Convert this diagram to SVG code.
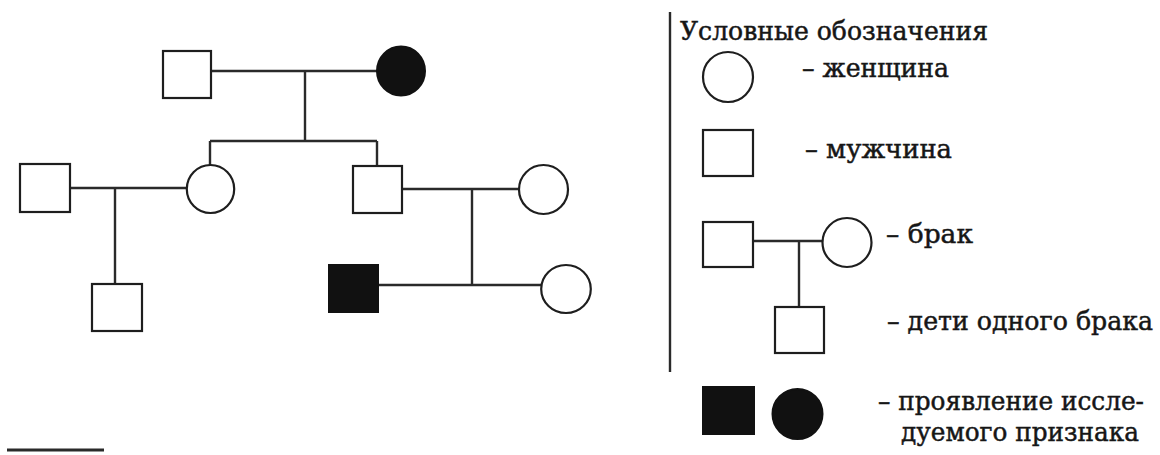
<svg xmlns="http://www.w3.org/2000/svg" width="1160" height="455" viewBox="0 0 1160 455">
<style>
.n{fill:#fff;stroke:#1e1e1e;stroke-width:2.2}
.f{fill:#111;stroke:#111;stroke-width:2}
.c{fill:none;stroke:#2a2a2a;stroke-width:2.4}
text{font-family:'DejaVu Serif','Liberation Serif','Noto Serif','Times New Roman',Times,serif;font-size:26px;fill:#161616;stroke:#161616;stroke-width:0.5}
</style>
<rect width="1160" height="455" fill="#fff"/>
<g id="connectors" class="c">
<path d="M211 71H377M305 71V141M210 141H377M210 141V165M377 141V166"/>
<path d="M70 188H187M115 188V284"/>
<path d="M402 189H519M472 189V285M378 285H542"/>
<path d="M753 241H823M799 241V307"/>
<path d="M670 12V372"/>
<path d="M7 450H104" stroke-width="3"/>
</g>
<g id="gp-father"><rect class="n" x="163" y="51" width="48" height="47"/></g>
<g id="gp-mother"><ellipse class="f" cx="401" cy="71" rx="24" ry="24.5"/></g>
<g id="daughter"><ellipse class="n" cx="210.5" cy="189" rx="23.7" ry="24"/></g>
<g id="son"><rect class="n" x="353" y="166" width="49" height="47"/></g>
<g id="son-in-law"><rect class="n" x="20" y="164" width="50" height="48"/></g>
<g id="grandson-left"><rect class="n" x="92" y="284" width="50" height="47"/></g>
<g id="daughter-in-law"><ellipse class="n" cx="543.5" cy="189.5" rx="24.5" ry="24.5"/></g>
<g id="grandson-affected"><rect class="f" x="329" y="265" width="49" height="47"/></g>
<g id="granddaughter"><ellipse class="n" cx="566" cy="289" rx="24.8" ry="24"/></g>
<g id="legend">
<text x="680" y="40" textLength="308" lengthAdjust="spacingAndGlyphs">Условные обозначения</text>
<circle class="n" cx="728" cy="77" r="25"/>
<text x="802" y="77" textLength="147" lengthAdjust="spacingAndGlyphs">– женщина</text>
<rect class="n" x="703" y="130" width="50" height="46"/>
<text x="805" y="158" textLength="147" lengthAdjust="spacingAndGlyphs">– мужчина</text>
<rect class="n" x="703" y="222" width="50" height="45"/>
<circle class="n" cx="847" cy="242.5" r="24.5"/>
<text x="886" y="243" textLength="87" lengthAdjust="spacingAndGlyphs">– брак</text>
<rect class="n" x="775" y="307" width="49" height="46"/>
<text x="887" y="330" textLength="266" lengthAdjust="spacingAndGlyphs">– дети одного брака</text>
<rect class="f" x="703" y="387" width="51" height="47"/>
<circle class="f" cx="797.5" cy="414" r="25"/>
<text x="878" y="410" textLength="266" lengthAdjust="spacingAndGlyphs">– проявление иссле-</text>
<text x="901" y="441" textLength="238" lengthAdjust="spacingAndGlyphs">дуемого признака</text>
</g>
</svg>
